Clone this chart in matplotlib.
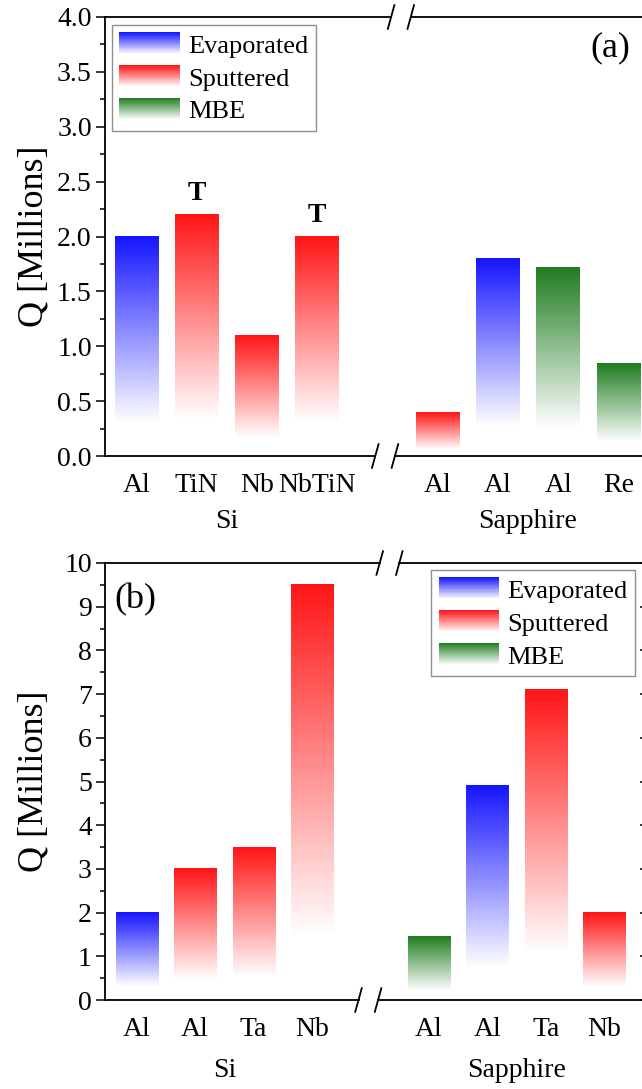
import numpy as np
import matplotlib
matplotlib.use("Agg")
import matplotlib.pyplot as plt
from matplotlib.patches import Rectangle
from matplotlib.legend_handler import HandlerBase
from matplotlib.ticker import MultipleLocator, FormatStrFormatter
import matplotlib.transforms as mtransforms

plt.rcParams['font.family'] = ['Liberation Serif', 'DejaVu Serif']

# data, panel (a)
si_a_labels = ['Al', 'TiN', 'Nb', 'NbTiN']
si_a_vals = [2.0, 2.2, 1.1, 2.0]
si_a_meth = ['Evaporated', 'Sputtered', 'Sputtered', 'Sputtered']
si_a_mark = ['', 'T', '', 'T']
sap_a_labels = ['Al', 'Al', 'Al', 'Re']
sap_a_vals = [0.4, 1.8, 1.72, 0.84]
sap_a_meth = ['Sputtered', 'Evaporated', 'MBE', 'MBE']
sap_a_mark = ['', '', '', '']

# data, panel (b)
si_b_labels = ['Al', 'Al', 'Ta', 'Nb']
si_b_vals = [2.0, 3.0, 3.5, 9.5]
si_b_meth = ['Evaporated', 'Sputtered', 'Sputtered', 'Sputtered']
sap_b_labels = ['Al', 'Al', 'Ta', 'Nb']
sap_b_vals = [1.45, 4.9, 7.1, 2.0]
sap_b_meth = ['MBE', 'Evaporated', 'Sputtered', 'Sputtered']

methods = ['Evaporated', 'Sputtered', 'MBE']
colors = {'Evaporated': (0.08, 0.08, 1.0),
          'Sputtered': (1.0, 0.08, 0.08),
          'MBE': (0.12, 0.49, 0.12)}

FS = 20


def grad_rgba(c, n=256, fade=0.15):
    t = np.linspace(0, 1, n)
    a = np.clip((t - fade) / (1 - fade), 0, 1)
    img = np.zeros((n, 1, 4))
    img[:, 0, :3] = c
    img[:, 0, 3] = a
    return img


class HandlerGrad(HandlerBase):
    # legend key drawn as stacked strips, white at the bottom
    def create_artists(self, legend, orig_handle, xdescent, ydescent,
                       width, height, fontsize, trans):
        c = np.array(orig_handle.get_facecolor()[:3])
        n = 40
        arts = []
        for i in range(n):
            t = (i + 0.5) / n
            a = max(0.0, min(1.0, (t - 0.05) / 0.95))
            col = 1 - a * (1 - c)
            r = Rectangle((-xdescent, -ydescent + height * i / n), width,
                          height / n * 1.05, facecolor=col,
                          edgecolor='none', antialiased=False,
                          transform=trans)
            arts.append(r)
        return arts


def panel(ax, vals, meths, labels, marks, xlim, ylim, major, minor, fmt,
          brk_bot, brk_top, grp_y):
    x = np.arange(len(vals), dtype=float)
    x[4:] += 1
    bars = ax.bar(x, vals, width=0.72, color='none', edgecolor='none')
    for b, m in zip(bars, meths):
        x0, w, h = b.get_x(), b.get_width(), b.get_height()
        ax.imshow(grad_rgba(colors[m]), extent=[x0, x0 + w, 0, h],
                  origin='lower', aspect='auto', interpolation='bilinear',
                  zorder=2)
    for b, mk in zip(bars, marks):
        if mk:
            ax.text(b.get_x() + b.get_width() / 2, b.get_height() + 0.08, mk,
                    ha='center', va='bottom', fontsize=20, fontweight='bold')
    ax.set_xlim(*xlim)
    ax.set_ylim(*ylim)
    ax.set_xticks(x)
    ax.set_xticklabels(labels)
    ax.tick_params(axis='x', length=0, pad=12, labelsize=FS)
    ax.yaxis.set_major_locator(MultipleLocator(major))
    ax.yaxis.set_minor_locator(MultipleLocator(minor))
    ax.yaxis.set_major_formatter(FormatStrFormatter(fmt))
    ax.tick_params(axis='y', which='major', direction='out', length=6.5,
                   width=1.1, pad=3, labelsize=FS)
    ax.tick_params(axis='y', which='minor', direction='out', length=3.5,
                   width=1.1)
    sec = ax.secondary_yaxis('right')
    sec.yaxis.set_major_locator(MultipleLocator(major))
    sec.yaxis.set_minor_locator(MultipleLocator(minor))
    sec.tick_params(which='both', direction='in', labelright=False)
    sec.tick_params(which='major', length=6.5, width=1.1)
    sec.tick_params(which='minor', length=3.5, width=1.1)
    for s in ['left', 'right']:
        ax.spines[s].set_linewidth(1.3)
    sec.spines['right'].set_linewidth(1.3)
    ax.spines['top'].set_visible(False)
    ax.spines['bottom'].set_visible(False)
    g = 0.018
    dx, dy = 0.006, 0.027
    for yy, bc in [(0, brk_bot), (1, brk_top)]:
        ax.plot([0, bc - g], [yy, yy], color='k', lw=1.3,
                transform=ax.transAxes, clip_on=False, zorder=5)
        ax.plot([bc + g, 1], [yy, yy], color='k', lw=1.3,
                transform=ax.transAxes, clip_on=False, zorder=5)
        for xc in (bc - g, bc + g):
            ax.plot([xc - dx, xc + dx], [yy - dy, yy + dy], color='k',
                    lw=1.3, transform=ax.transAxes, clip_on=False, zorder=5)
    trans = mtransforms.blended_transform_factory(ax.transData, ax.transAxes)
    ax.text(1.5, grp_y, 'Si', transform=trans, ha='center', va='center',
            fontsize=FS)
    ax.text(6.5, grp_y, 'Sapphire', transform=trans, ha='center',
            va='center', fontsize=FS)
    ax.set_ylabel('Q [Millions]', fontsize=26)
    ax.yaxis.set_label_coords(-0.1, 0.5)
    handles = [Rectangle((0, 0), 1, 1, facecolor=colors[m]) for m in methods]
    return handles


def add_legend(ax, h, loc, anchor):
    leg = ax.legend(h, methods, handler_map={Rectangle: HandlerGrad()},
                    loc=loc, bbox_to_anchor=anchor, borderaxespad=0,
                    fontsize=19, frameon=True, fancybox=False,
                    handlelength=2.3, handleheight=0.95, labelspacing=0.28,
                    handletextpad=0.3, borderpad=0.28)
    leg.get_frame().set_edgecolor('0.45')
    leg.get_frame().set_linewidth(1.0)
    return leg


fig = plt.figure(figsize=(6.42, 10.89), dpi=100)
ax1 = fig.add_axes([105 / 642, 1 - 456 / 1089, 546 / 642, 439 / 1089])
ax2 = fig.add_axes([105 / 642, 1 - 1000 / 1089, 544 / 642, 437 / 1089])

h = panel(ax1, si_a_vals + sap_a_vals, si_a_meth + sap_a_meth,
          si_a_labels + sap_a_labels, si_a_mark + sap_a_mark,
          (-0.52, 8.54), (0, 4.0), 0.5, 0.25, '%.1f', 0.513, 0.542, -0.15)
add_legend(ax1, h, 'upper left', (0.013, 0.982))
ax1.text(0.962, 0.93, '(a)', transform=ax1.transAxes, ha='right',
         va='center', fontsize=26)

h = panel(ax2, si_b_vals + sap_b_vals, si_b_meth + sap_b_meth,
          si_b_labels + sap_b_labels, [''] * 8,
          (-0.54, 8.76), (0, 10), 1, 0.5, '%d', 0.484, 0.523, -0.162)
add_legend(ax2, h, 'upper right', (0.974, 0.984))
ax2.text(0.018, 0.915, '(b)', transform=ax2.transAxes, ha='left',
         va='center', fontsize=26)

fig.savefig('out.png', dpi=100)
